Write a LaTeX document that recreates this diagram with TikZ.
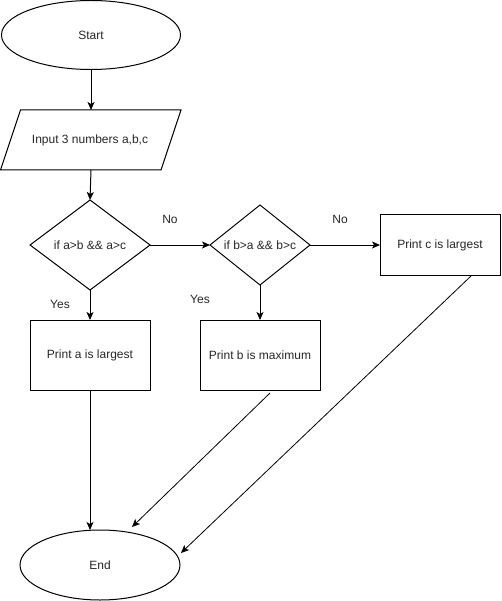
\documentclass[tikz,border=0pt]{standalone}
\usepackage{fontspec}
\setmainfont{Liberation Sans}
\usetikzlibrary{shapes.geometric,arrows.meta}
\begin{document}
\begin{tikzpicture}[x=1pt,y=-1pt,
  every node/.style={font=\fontsize{12pt}{14pt}\selectfont, text=black!85},
  shp/.style={draw=black, line width=1pt, inner sep=0pt, outer sep=0pt},
  oval/.style={shp, ellipse},
  box/.style={shp, rectangle},
  dia/.style={shp, diamond},
  lbl/.style={inner sep=0pt},
  arr/.style={line width=1pt, -{Stealth[length=8pt,width=7pt,inset=2pt]}},
  thinarr/.style={line width=0.8pt, -{Stealth[length=8pt,width=7pt,inset=2pt]}}]
\useasboundingbox (0,0) rectangle (501,601);
\node[oval, minimum width=179pt, minimum height=69pt] (start) at (91,35) {Start};
\coordinate (p1) at (20.5,110);
\coordinate (p2) at (181,110);
\coordinate (p3) at (161,170);
\coordinate (p4) at (0.5,170);
\draw[line width=1pt, line join=miter] (p1) -- (p2) -- (p3) -- (p4) -- cycle;
\node[lbl] (inp) at (90,140) {Input 3 numbers a,b,c};
\coordinate (inpbot) at (91,170);
\coordinate (inptop) at (91,110);
\node[dia, minimum width=120pt, minimum height=90pt] (d1) at (90,245) {};
\node[lbl] at (90,245) {if a>b \&\& a>c};
\node[dia, minimum width=100pt, minimum height=80pt] (d2) at (260,245) {};
\node[lbl] at (260,245) {if b>a \&\& b>c};
\node[box, minimum width=120pt, minimum height=60pt] (pc) at (440,245) {Print c is largest};
\node[box, minimum width=120pt, minimum height=70pt] (pa) at (90,355) {Print a is largest};
\node[box, minimum width=120pt, minimum height=70pt] (pb) at (260,355) {Print b is maximum};
\node[oval, minimum width=160pt, minimum height=70pt] (end) at (100,565) {End};
\node[lbl] (no1) at (170,219) {No};
\node[lbl] (no2) at (340,219) {No};
\node[lbl] (yes1) at (60,304) {Yes};
\node[lbl] (yes2) at (200,299) {Yes};
\draw[arr] (start.south) -- (inptop);
\draw[arr] (inpbot) -- (d1.north);
\draw[arr] (d1.east) -- (d2.west);
\draw[arr] (d2.east) -- (pc.west);
\draw[arr] (d1.south) -- (pa.north);
\draw[arr] (d2.south) -- (pb.north);
\draw[arr] (pa.south) -- (end.north -| pa.south);
\coordinate (bs) at (270,393);
\coordinate (be) at (132,527);
\coordinate (cs) at (471,276);
\coordinate (ce) at (181,553);
\draw[thinarr] (bs) -- (be);
\draw[thinarr] (cs) -- (ce);
\end{tikzpicture}
\end{document}
